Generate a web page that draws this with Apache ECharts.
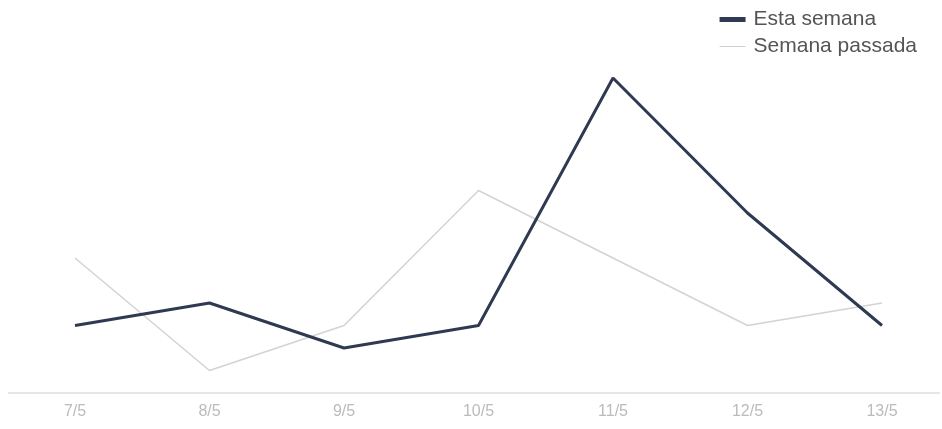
<!DOCTYPE html>
<html><head><meta charset="utf-8">
<script src="https://cdn.jsdelivr.net/npm/echarts@6/dist/echarts.min.js"></script>
<style>html,body{margin:0;padding:0;background:#fff}#c{width:942px;height:429px}</style>
</head><body><div id="c"></div>
<script>
const categories = ['7/5','8/5','9/5','10/5','11/5','12/5','13/5'];
const estaSemana = [3,4,2,3,14,8,3];
const semanaPassada = [6,1,3,9,6,3,4];
const chart = echarts.init(document.getElementById('c'));
chart.setOption({
  animation:false,
  legend:{
    orient:'vertical', right:20, top:4, itemGap:6, itemWidth:26, itemHeight:22,
    textStyle:{color:'#555', fontSize:21, padding:[0,0,0,3], fontFamily:'Arial, Liberation Sans, sans-serif'},
    data:[
      {name:'Esta semana', icon:'path://M0,8.5 L26,8.5 L26,13.5 L0,13.5 Z', itemStyle:{color:'#2f3a52'}},
      {name:'Semana passada', icon:'path://M0,10.5 L26,10.5 L26,11.5 L0,11.5 Z', itemStyle:{color:'#cfcfcf'}}
    ]
  },
  graphic:[{type:'line', shape:{x1:8, y1:393, x2:940, y2:393}, style:{stroke:'#e6e6e6', lineWidth:2}, z:0}],
  grid:{left:75, right:60, top:78, bottom:36},
  xAxis:{
    type:'category', data:categories, boundaryGap:false,
    axisLine:{show:false},
    axisTick:{show:false},
    axisLabel:{color:'#bbb', fontSize:16, margin:11, fontFamily:'Arial, Liberation Sans, sans-serif'}
  },
  yAxis:{type:'value', min:0, max:14, show:false, splitLine:{show:false}},
  series:[
    {name:'Semana passada', type:'line', data:semanaPassada, symbol:'none',
     lineStyle:{color:'#d3d3d3', width:1.5}, itemStyle:{color:'#cfcfcf'}, z:1},
    {name:'Esta semana', type:'line', data:estaSemana, symbol:'none',
     lineStyle:{color:'#2f3a52', width:3}, itemStyle:{color:'#2f3a52'}, z:2}
  ]
});
</script></body></html>
